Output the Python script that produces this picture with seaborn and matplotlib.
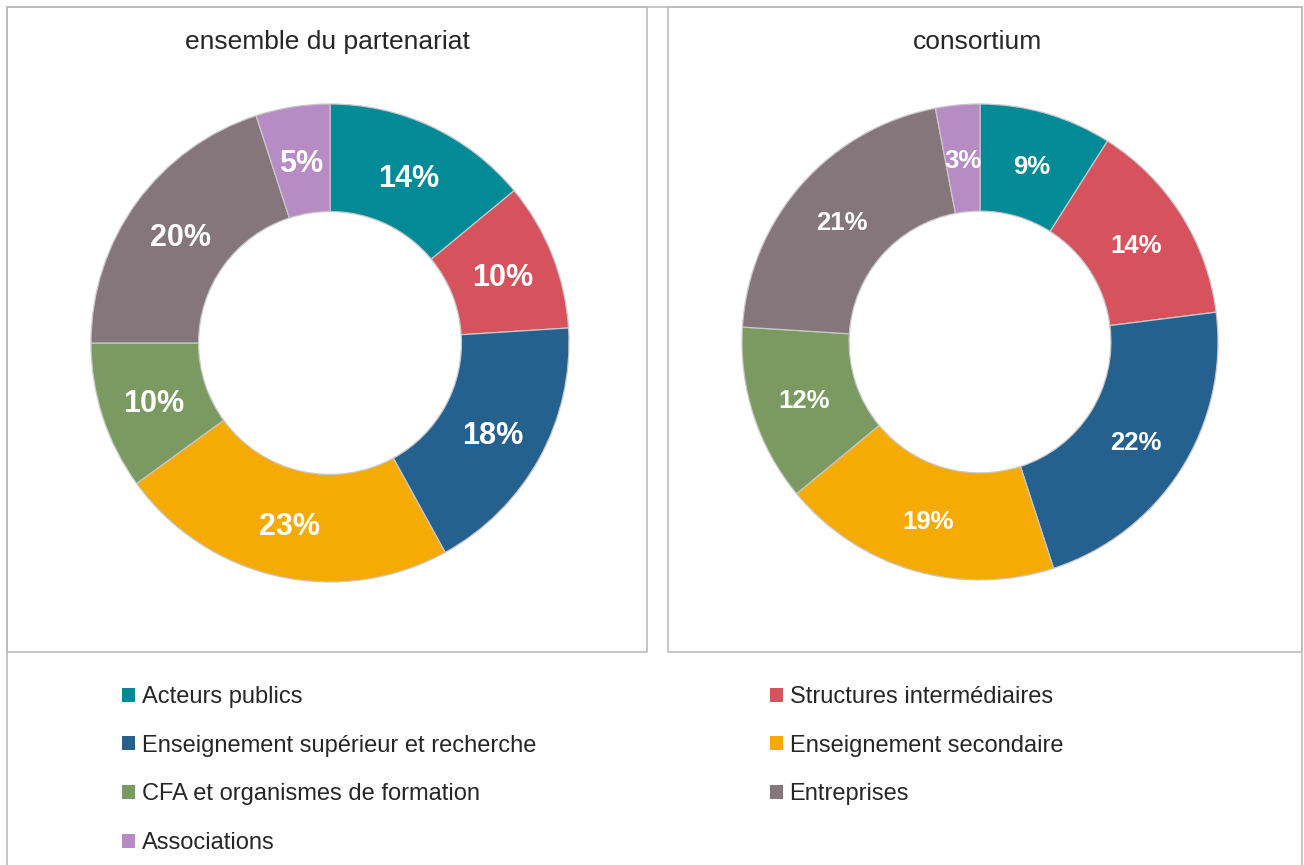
import matplotlib
matplotlib.use("Agg")
import matplotlib.pyplot as plt
import matplotlib.patches as mpatches
import matplotlib.lines as mlines
import seaborn as sns

sns.set_theme(style="white")
plt.rcParams['font.family'] = ['Liberation Sans', 'DejaVu Sans']

# Données
categories = ['Acteurs publics', 'Structures intermédiaires',
              'Enseignement supérieur et recherche', 'Enseignement secondaire',
              'CFA et organismes de formation', 'Entreprises', 'Associations']
valeurs_ensemble = [14, 10, 18, 23, 10, 20, 5]
valeurs_consortium = [9, 14, 22, 19, 12, 21, 3]
titres = ['ensemble du partenariat', 'consortium']

couleurs = sns.color_palette(['#028A96', '#D6525D', '#25618E', '#F6AA04',
                              '#7B9A62', '#85767B', '#B78BC3'])

W, H = 1304, 865
fig = plt.figure(figsize=(W / 100, H / 100), dpi=100)


def px_box(x0, y0, x1, y1):
    # pixels (origine en haut à gauche) -> fraction de figure
    return [x0 / W, 1 - y1 / H, (x1 - x0) / W, (y1 - y0) / H]


def donut(rect, valeurs, taille):
    ax = fig.add_axes(rect)
    wedges, _, autotexts = ax.pie(
        valeurs, colors=couleurs, startangle=90, counterclock=False,
        radius=1, autopct='%.0f%%', pctdistance=0.775,
        wedgeprops=dict(width=0.45, edgecolor='#c8c8c8', linewidth=0.9),
        textprops=dict(color='white', fontsize=taille, fontweight='bold'))
    for t in autotexts:
        t.set_va('center_baseline')
    ax.set_xlim(-1, 1)
    ax.set_ylim(-1, 1)
    ax.set_aspect('equal')
    ax.axis('off')
    return ax


donut(px_box(91, 104, 569, 582), valeurs_ensemble, 22)
donut(px_box(742, 104, 1218, 580), valeurs_consortium, 18.5)

# titres
fig.text(327 / W, 1 - 42 / H, titres[0], ha='center', va='center',
         fontsize=19, color='#262626')
fig.text(978 / W, 1 - 42 / H, titres[1], ha='center', va='center',
         fontsize=19, color='#262626')

# cadres
gris = '#bcbcbc'
for (x0, y0, x1, y1) in [(7, 7, 647, 652), (668, 7, 1302, 652)]:
    fig.add_artist(mpatches.Rectangle((x0 / W, 1 - y1 / H), (x1 - x0) / W, (y1 - y0) / H,
                                      transform=fig.transFigure, fill=False,
                                      edgecolor=gris, linewidth=1.2))
cadre = [((7, 7), (1302, 7)), ((7, 7), (7, 870)), ((1302, 7), (1302, 870))]
for (a, b) in cadre:
    fig.add_artist(mlines.Line2D([a[0] / W, b[0] / W], [1 - a[1] / H, 1 - b[1] / H],
                                 transform=fig.transFigure, color=gris, linewidth=1.2))

# légende en deux colonnes
handles = [mpatches.Patch(facecolor=c, edgecolor='none') for c in couleurs]
col1 = [0, 2, 4, 6]
col2 = [1, 3, 5]
opts = dict(frameon=False, fontsize=17, handlelength=0.55, handleheight=0.55,
            handletextpad=0.28, labelspacing=1.13, borderpad=0, borderaxespad=0,
            loc='upper left', labelcolor='#262626')
fig.legend([handles[i] for i in col1], [categories[i] for i in col1],
           bbox_to_anchor=(122 / W, 1 - 686 / H), **opts)
fig.legend([handles[i] for i in col2], [categories[i] for i in col2],
           bbox_to_anchor=(770 / W, 1 - 686 / H), **opts)

fig.savefig('out.png', dpi=100, facecolor='white')
